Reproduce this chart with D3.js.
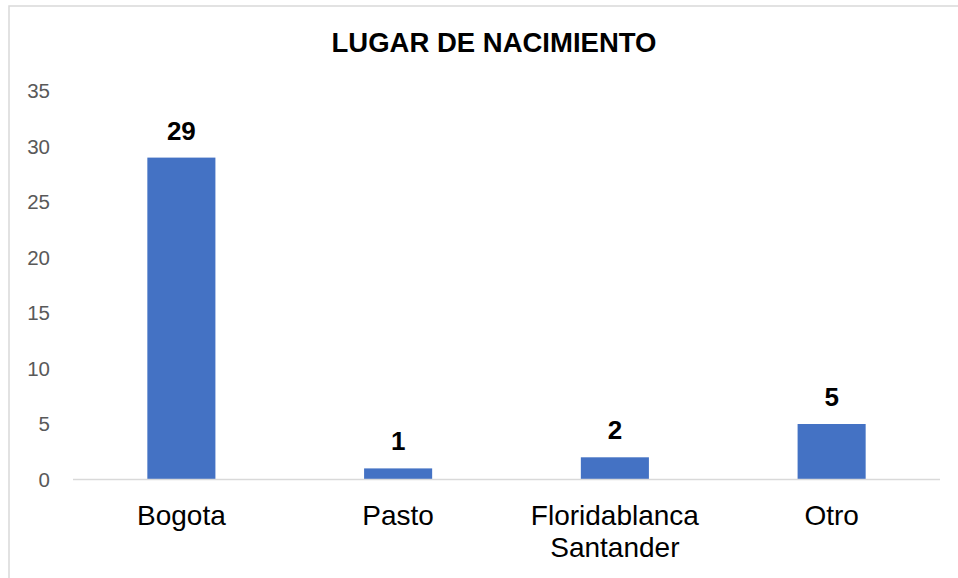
<!DOCTYPE html>
<html>
<head>
<meta charset="utf-8">
<script src="https://cdn.jsdelivr.net/npm/d3@7"></script>
<style>
  body { margin: 0; background: #fff; }
  text { font-family: "Liberation Sans", Arial, sans-serif; }
</style>
</head>
<body>
<div class="chart"></div>
<script>
// data
const categories = [["Bogota"], ["Pasto"], ["Floridablanca", "Santander"], ["Otro"]];
const values = [29, 1, 2, 5];
const yTicks = [0, 5, 10, 15, 20, 25, 30, 35];
const title = "LUGAR DE NACIMIENTO";

function init(){
    createChart(".chart");
}

function createChart(id){
    const W = 958, H = 578;
    const margin = {top: 91, right: 18, bottom: 98, left: 73};

    const svg = d3.select(id)
        .append("svg")
        .attr("width", W)
        .attr("height", H);

    // outer frame (only left and top visible in the crop)
    svg.append("rect")
        .attr("x", 9).attr("y", 6)
        .attr("width", W + 20).attr("height", H + 20)
        .attr("fill", "#fff")
        .attr("stroke", "#d9d9d9")
        .attr("stroke-width", 1.5);

    const x = d3.scaleBand()
        .domain(d3.range(categories.length))
        .range([margin.left, W - margin.right])
        .paddingInner(0.686)
        .paddingOuter(0.343);

    const y = d3.scaleLinear()
        .domain([0, 35])
        .range([H - margin.bottom - 0.5, margin.top]);

    // title
    svg.append("text")
        .attr("x", 494).attr("y", 52)
        .attr("text-anchor", "middle")
        .attr("font-size", 27.5)
        .attr("font-weight", "bold")
        .attr("fill", "#000")
        .text(title);

    // y axis labels
    const yAxis = svg.append("g")
        .attr("transform", `translate(50,0)`)
        .call(d3.axisLeft(y).tickValues(yTicks).tickSize(0).tickPadding(0));
    yAxis.select(".domain").remove();
    yAxis.selectAll("text")
        .attr("font-size", 20.5)
        .attr("fill", "#595959")
        .attr("font-family", "'Liberation Sans', Arial, sans-serif");

    // bars
    svg.selectAll("rect.bar")
        .data(values)
        .join("rect")
        .attr("class", "bar")
        .attr("x", (d, i) => x(i))
        .attr("width", x.bandwidth())
        .attr("y", d => y(d))
        .attr("height", d => y(0) - y(d))
        .attr("fill", "#4472c4");

    // baseline
    svg.append("line")
        .attr("x1", margin.left).attr("x2", W - margin.right)
        .attr("y1", y(0)).attr("y2", y(0))
        .attr("stroke", "#d9d9d9")
        .attr("stroke-width", 1.5);

    // data labels
    svg.selectAll("text.val")
        .data(values)
        .join("text")
        .attr("class", "val")
        .attr("x", (d, i) => x(i) + x.bandwidth() / 2)
        .attr("y", d => y(d) - 18)
        .attr("text-anchor", "middle")
        .attr("font-size", 26)
        .attr("font-weight", "bold")
        .attr("fill", "#000")
        .text(d => d);

    // category labels
    const cat = svg.selectAll("text.cat")
        .data(categories)
        .join("text")
        .attr("class", "cat")
        .attr("text-anchor", "middle")
        .attr("font-size", 28)
        .attr("fill", "#000");
    cat.selectAll("tspan")
        .data((d, i) => d.map(s => ({s, i})))
        .join("tspan")
        .attr("x", d => x(d.i) + x.bandwidth() / 2)
        .attr("y", (d, j) => 525 + j * 32)
        .text(d => d.s);
}

init();
</script>
</body>
</html>
